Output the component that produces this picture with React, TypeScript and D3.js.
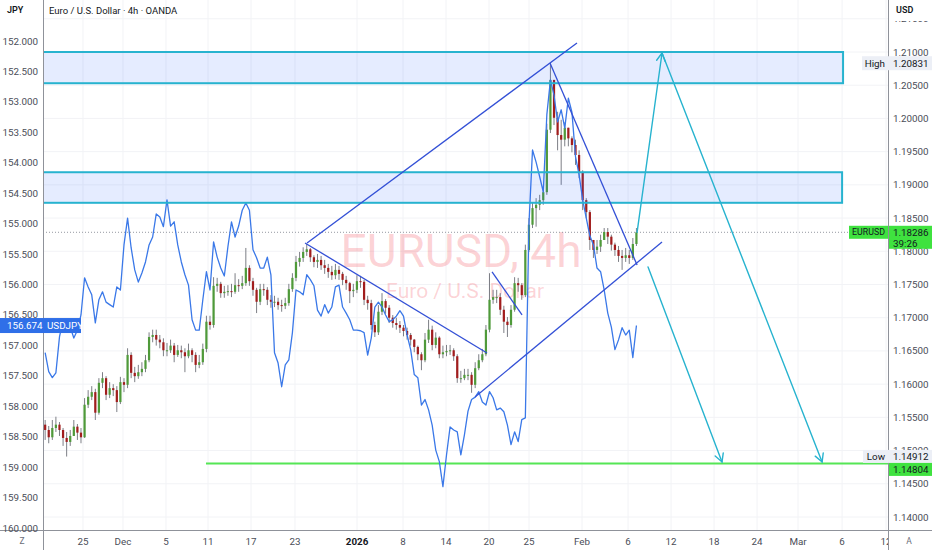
import React from 'react';
import * as d3 from 'd3';

const W = 932;
const H = 550;
const FONT = "Roboto, 'Liberation Sans', Arial, sans-serif";

// ---------- DATA ----------
// EURUSD bars, [close, high, low]; each bar opens at the previous close
const eurOpen0 = 1.1539;
const eurusdBars: [number, number, number][] = [
  [1.1531,1.1546,1.1516],[1.1520,1.1537,1.1511],[1.1534,1.1546,1.1516],[1.1539,1.1551,1.1528],[1.1531,1.1543,1.1522],
  [1.1519,1.1534,1.1507],[1.1513,1.1528,1.1491],[1.1522,1.1531,1.1507],[1.1536,1.1546,1.1522],[1.1527,1.1540,1.1516],
  [1.1520,1.1534,1.1511],[1.1569,1.1579,1.1519],[1.1581,1.1591,1.1564],[1.1588,1.1597,1.1576],[1.1557,1.1593,1.1546],
  [1.1602,1.1609,1.1554],[1.1609,1.1618,1.1594],[1.1584,1.1612,1.1576],[1.1594,1.1603,1.1579],[1.1591,1.1600,1.1582],
  [1.1573,1.1597,1.1558],[1.1603,1.1611,1.1570],[1.1599,1.1609,1.1588],[1.1644,1.1654,1.1594],[1.1617,1.1648,1.1609],
  [1.1612,1.1626,1.1603],[1.1618,1.1629,1.1608],[1.1623,1.1633,1.1612],[1.1636,1.1644,1.1618],[1.1671,1.1678,1.1633],
  [1.1674,1.1682,1.1663],[1.1667,1.1682,1.1658],[1.1663,1.1674,1.1654],[1.1651,1.1669,1.1642],[1.1651,1.1662,1.1642],
  [1.1658,1.1667,1.1647],[1.1644,1.1662,1.1633],[1.1651,1.1659,1.1641],[1.1648,1.1658,1.1639],[1.1642,1.1654,1.1618],
  [1.1651,1.1661,1.1639],[1.1644,1.1654,1.1633],[1.1629,1.1648,1.1618],[1.1633,1.1644,1.1624],[1.1653,1.1661,1.1629],
  [1.1694,1.1703,1.1648],[1.1689,1.1703,1.1682],[1.1748,1.1761,1.1685],[1.1751,1.1760,1.1739],[1.1737,1.1754,1.1730],
  [1.1739,1.1748,1.1730],[1.1740,1.1749,1.1733],[1.1739,1.1751,1.1731],[1.1749,1.1767,1.1736],[1.1748,1.1758,1.1739],
  [1.1752,1.1763,1.1743],[1.1775,1.1805,1.1748],[1.1755,1.1779,1.1748],[1.1742,1.1760,1.1733],[1.1724,1.1745,1.1707],
  [1.1743,1.1751,1.1719],[1.1742,1.1751,1.1733],[1.1727,1.1746,1.1719],[1.1724,1.1734,1.1715],[1.1724,1.1733,1.1716],
  [1.1719,1.1730,1.1712],[1.1718,1.1727,1.1709],[1.1722,1.1730,1.1713],[1.1743,1.1751,1.1718],[1.1760,1.1767,1.1739],
  [1.1784,1.1793,1.1755],[1.1790,1.1799,1.1777],[1.1799,1.1806,1.1784],[1.1803,1.1811,1.1793],[1.1791,1.1805,1.1784],
  [1.1784,1.1794,1.1776],[1.1787,1.1796,1.1775],[1.1779,1.1793,1.1772],[1.1775,1.1787,1.1766],[1.1769,1.1781,1.1760],
  [1.1764,1.1778,1.1757],[1.1772,1.1781,1.1758],[1.1766,1.1778,1.1757],[1.1757,1.1769,1.1749],[1.1752,1.1763,1.1742],
  [1.1740,1.1754,1.1722],[1.1742,1.1751,1.1731],[1.1755,1.1764,1.1737],[1.1754,1.1763,1.1745],[1.1727,1.1757,1.1719],
  [1.1722,1.1733,1.1712],[1.1689,1.1727,1.1682],[1.1678,1.1694,1.1671],[1.1709,1.1719,1.1674],[1.1725,1.1737,1.1704],
  [1.1715,1.1728,1.1706],[1.1700,1.1719,1.1692],[1.1692,1.1704,1.1685],[1.1689,1.1700,1.1682],[1.1685,1.1695,1.1677],
  [1.1680,1.1689,1.1672],[1.1674,1.1685,1.1667],[1.1667,1.1677,1.1658],[1.1656,1.1668,1.1648],[1.1645,1.1658,1.1636],
  [1.1636,1.1648,1.1621],[1.1667,1.1677,1.1633],[1.1682,1.1697,1.1662],[1.1659,1.1688,1.1651],[1.1670,1.1678,1.1654],
  [1.1645,1.1672,1.1639],[1.1648,1.1658,1.1639],[1.1650,1.1659,1.1642],[1.1651,1.1659,1.1644],[1.1642,1.1654,1.1635],
  [1.1609,1.1645,1.1602],[1.1609,1.1620,1.1602],[1.1614,1.1623,1.1606],[1.1614,1.1623,1.1606],[1.1599,1.1618,1.1587],
  [1.1624,1.1633,1.1594],[1.1636,1.1645,1.1621],[1.1645,1.1653,1.1633],[1.1682,1.1689,1.1642],[1.1727,1.1767,1.1678],
  [1.1731,1.1742,1.1721],[1.1731,1.1742,1.1722],[1.1712,1.1737,1.1704],[1.1694,1.1718,1.1677],[1.1689,1.1701,1.1671],
  [1.1712,1.1719,1.1685],[1.1752,1.1761,1.1709],[1.1749,1.1760,1.1739],[1.1734,1.1752,1.1727],[1.1802,1.1810,1.1731],
  [1.1840,1.1850,1.1799],[1.1865,1.1873,1.1835],[1.1870,1.1880,1.1837],[1.1877,1.1885,1.1862],[1.1889,1.1898,1.1870],
  [1.1983,1.1992,1.1885],[1.2058,1.20831,1.1978],[1.2001,1.2058,1.1990],[1.1975,1.2010,1.1952],[1.1968,1.1998,1.1900],
  [1.1986,1.1994,1.1958],[1.1970,1.1986,1.1958],[1.1960,1.1973,1.1949],[1.1945,1.1968,1.1930],[1.1919,1.1952,1.1910],
  [1.1877,1.1922,1.1862],[1.1859,1.1880,1.1850],[1.1817,1.1862,1.1802],[1.1802,1.1817,1.1790],[1.1807,1.1817,1.1796],
  [1.1817,1.1825,1.1799],[1.1829,1.1835,1.1817],[1.1822,1.1835,1.1811],[1.1810,1.1825,1.1801],[1.1802,1.1813,1.1793],
  [1.1793,1.1808,1.1784],[1.1790,1.1802,1.1772],[1.1794,1.1805,1.1784],[1.1790,1.1802,1.1781],[1.1811,1.1820,1.1787],
  [1.18286,1.1835,1.1808],
];

// USDJPY compare line, one value per bar (left, inverted JPY scale)
const usdjpyCloses: number[] = [
  157.12,157.43,157.53,157.45,156.86,156.58,156.66,156.70,156.88,156.75,
  156.50,155.89,156.04,156.17,156.63,156.25,156.12,156.29,156.33,156.37,
  156.04,156.09,155.35,154.91,155.40,155.76,155.96,155.81,155.63,155.35,
  155.22,154.84,154.89,155.05,154.61,155.04,154.97,155.35,155.63,155.84,
  156.01,156.58,156.75,156.75,156.25,155.79,156.09,155.30,155.55,155.73,
  155.86,155.38,154.97,155.22,155.04,154.78,154.66,154.78,155.43,155.56,
  155.73,155.73,155.55,155.84,157.12,157.29,157.68,157.32,157.24,156.79,
  156.09,156.12,156.17,155.84,155.92,156.02,156.42,156.52,156.33,156.47,
  156.37,156.04,156.01,156.37,156.47,156.58,156.75,156.75,156.76,156.79,
  157.16,156.88,156.37,156.29,156.37,156.50,156.61,156.58,156.52,156.43,
  156.52,156.83,157.07,157.48,157.53,157.98,157.89,158.06,158.31,158.72,
  158.91,159.32,158.80,158.34,158.39,158.42,158.80,158.47,158.08,157.89,
  157.85,157.76,157.93,157.98,157.76,157.86,158.06,158.03,158.09,158.31,
  158.63,158.42,158.58,158.22,158.19,155.02,153.79,153.99,154.23,154.48,
  153.21,152.64,152.89,153.33,153.13,153.43,152.94,153.17,153.90,154.20,
  154.61,154.91,155.20,155.35,155.73,155.79,156.09,156.47,156.70,157.07,
  156.91,156.71,156.83,156.75,157.20,156.674,
];

const barStartDay = 0.2; // trading-day position of first bar
const barsPerDay = 3;

const timeTicks: { label: string; day: number; bold?: boolean }[] = [
  { label: '25', day: 3.72 }, { label: 'Dec', day: 7.44 }, { label: '5', day: 11.44 },
  { label: '11', day: 15.35 }, { label: '17', day: 19.35 }, { label: '23', day: 23.44 },
  { label: '2026', day: 29.21, bold: true }, { label: '8', day: 33.49 }, { label: '14', day: 37.49 },
  { label: '20', day: 41.49 }, { label: '25', day: 45.21 }, { label: 'Feb', day: 50.14 },
  { label: '6', day: 54.42 }, { label: '12', day: 58.42 }, { label: '18', day: 62.42 },
  { label: '24', day: 66.42 }, { label: 'Mar', day: 70.23 }, { label: '6', day: 74.33 },
  { label: '12', day: 78.42 },
];
const jpyTicks = [152, 152.5, 153, 153.5, 154, 154.5, 155, 155.5, 156, 156.5, 157, 157.5, 158, 158.5, 159, 159.5, 160];
const usdTicks = [1.215, 1.21, 1.205, 1.2, 1.195, 1.19, 1.185, 1.18, 1.175, 1.17, 1.165, 1.16, 1.155, 1.15, 1.145, 1.14];

// drawings (trading day, EURUSD price)
const zones = [
  { fromDay: -1, toDay: 74.42, top: 1.2100, bottom: 1.2053 },
  { fromDay: -1, toDay: 74.33, top: 1.1919, bottom: 1.1873 },
];
const trendLines: [number, number][][] = [
  [[24.56, 1.18125], [49.67, 1.21136]],
  [[24.37, 1.18125], [41.30, 1.16469]],
  [[41.77, 1.17689], [44.56, 1.17041]],
  [[40.19, 1.15807], [57.58, 1.18140]],
  [[47.16, 1.20835], [55.26, 1.17794]],
];
const arrows: [number, number][][] = [
  [[55.26, 1.18286], [57.58, 1.20985]],
  [[57.58, 1.20985], [72.47, 1.14829]],
  [[56.28, 1.17764], [63.16, 1.14829]],
];
const supportLine = { fromDay: 15.16, toDay: 80, price: 1.14804 };
const lastPrice = 1.18286;
const countdown = '39:26';
const highPrice = 1.20831;
const lowPrice = 1.14912;
const lastJpy = 156.674;
const pricelineEndDay = 74.9;

// ---------- SCALES ----------
const PL = 43, PR = 888, PB = 530;
const x = d3.scaleLinear().domain([0, 78.6]).range([PL, PR]);
const yUsd = d3.scaleLinear().domain([1.21, 1.14]).range([52, 517]);
const yJpy = d3.scaleLinear().domain([152, 160]).range([41, 528]);

const UP = '#4f9a3a';
const DOWN = '#a11d1d';
const WICK = '#7d7f86';
const JPY_BLUE = '#3a78e8';
const TREND = '#3350d6';
const TEAL = '#27b3cf';
const GREEN = '#55e655';
const LABEL_GREEN = '#3fe23f';
const AXIS_TXT = '#4a4d57';
const AXIS_FS = 9.8;

const barDay = (i: number) => barStartDay + i / barsPerDay;

function Arrow({ p0, p1 }: { p0: [number, number]; p1: [number, number] }) {
  const x0 = x(p0[0]), y0 = yUsd(p0[1]), x1 = x(p1[0]), y1 = yUsd(p1[1]);
  const a = Math.atan2(y1 - y0, x1 - x0);
  const L = 9, s = 0.5;
  const ax = x1 - L * Math.cos(a - s), ay = y1 - L * Math.sin(a - s);
  const bx = x1 - L * Math.cos(a + s), by = y1 - L * Math.sin(a + s);
  return (
    <g stroke={TEAL} strokeWidth={1.4} fill="none" strokeLinecap="round">
      <line x1={x0} y1={y0} x2={x1} y2={y1} />
      <path d={`M${ax},${ay}L${x1},${y1}L${bx},${by}`} />
    </g>
  );
}

export default function App() {
  const bw = (x(1 / barsPerDay) - x(0)) * 0.62;
  const fmtJ = d3.format('.3f');
  const fmtU = d3.format('.5f');
  const jpyLine = d3.line<number>().x((_, i) => x(barDay(i))).y(d => yJpy(d))(usdjpyCloses) || '';

  return (
    <svg width={W} height={H} style={{ position: 'absolute', left: 0, top: 0, display: 'block', background: '#fff' }} fontFamily={FONT}>
      <defs>
        <clipPath id="plot"><rect x={PL} y={0} width={PR - PL} height={PB} /></clipPath>
        <clipPath id="xaxis"><rect x={PL} y={PB} width={PR - PL} height={H - PB} /></clipPath>
        <clipPath id="raxis"><rect x={PR} y={21} width={W - PR} height={PB - 21} /></clipPath>
      </defs>
      <rect x={0} y={0} width={W} height={H} fill="#fff" />

      <g clipPath="url(#plot)">
        {/* grid */}
        {usdTicks.map(t => (
          <line key={'h' + t} x1={PL} x2={PR} y1={yUsd(t)} y2={yUsd(t)} stroke="#f2f3f6" />
        ))}
        {timeTicks.map((t, i) => (
          <line key={'v' + i} x1={x(t.day)} x2={x(t.day)} y1={0} y2={PB} stroke="#f2f3f6" />
        ))}

        {/* watermark */}
        <text x={461} y={267} textAnchor="middle" fontSize={46} fill="rgba(242,54,69,0.22)">EURUSD, 4h</text>
        <text x={465} y={298} textAnchor="middle" fontSize={21} fill="rgba(242,54,69,0.22)">Euro / U.S. Dollar</text>

        {/* support line */}
        <line x1={x(supportLine.fromDay)} x2={x(supportLine.toDay)} y1={yUsd(supportLine.price)} y2={yUsd(supportLine.price)} stroke={GREEN} strokeWidth={2} />

        {/* last price dotted line */}
        <line x1={PL} x2={x(pricelineEndDay)} y1={yUsd(lastPrice)} y2={yUsd(lastPrice)} stroke="#9598a1" strokeDasharray="1,2" />

        {/* candles */}
        {eurusdBars.map((b, i) => {
          const o = i === 0 ? eurOpen0 : eurusdBars[i - 1][0];
          const c = b[0];
          const hi = Math.max(b[1], o, c), lo = Math.min(b[2], o, c);
          const cx = x(barDay(i));
          const yt = yUsd(Math.max(o, c)), yb = yUsd(Math.min(o, c));
          return (
            <g key={i}>
              <line x1={cx} x2={cx} y1={yUsd(hi)} y2={yUsd(lo)} stroke={WICK} strokeWidth={1} />
              <rect x={cx - bw / 2} y={yt} width={bw} height={Math.max(1, yb - yt)} fill={c >= o ? UP : DOWN} />
            </g>
          );
        })}

        {/* USDJPY compare line */}
        <path d={jpyLine} fill="none" stroke={JPY_BLUE} strokeWidth={1.3} strokeLinejoin="round" />

        {/* zones */}
        {zones.map((z, i) => (
          <rect key={'z' + i} x={x(z.fromDay)} y={yUsd(z.top)} width={x(z.toDay) - x(z.fromDay)} height={yUsd(z.bottom) - yUsd(z.top)}
            fill="rgba(41,98,255,0.12)" stroke={TEAL} strokeWidth={2} />
        ))}

        {/* trend lines */}
        {trendLines.map((l, i) => (
          <line key={'t' + i} x1={x(l[0][0])} y1={yUsd(l[0][1])} x2={x(l[1][0])} y2={yUsd(l[1][1])} stroke={TREND} strokeWidth={1.3} />
        ))}

        {/* arrows */}
        {arrows.map((a, i) => <Arrow key={'a' + i} p0={a[0]} p1={a[1]} />)}
      </g>

      {/* axes lines */}
      <line x1={PL + 0.5} x2={PL + 0.5} y1={0} y2={H} stroke="#8f929a" />
      <line x1={PR + 0.5} x2={PR + 0.5} y1={0} y2={H} stroke="#8f929a" />
      <line x1={0} x2={W} y1={PB + 0.5} y2={PB + 0.5} stroke="#8f929a" />

      {/* left axis */}
      {jpyTicks.map(t => (
        <text key={'j' + t} x={38} y={yJpy(t)} textAnchor="end" dominantBaseline="central" fontSize={AXIS_FS} fill={AXIS_TXT}>{fmtJ(t)}</text>
      ))}
      {/* right axis */}
      <g clipPath="url(#raxis)">
        {usdTicks.map(t => (
          <text key={'u' + t} x={893} y={yUsd(t)} dominantBaseline="central" fontSize={AXIS_FS} fill={AXIS_TXT}>{fmtU(t)}</text>
        ))}
      </g>
      {/* bottom axis */}
      <g clipPath="url(#xaxis)">
        {timeTicks.map((t, i) => (
          <text key={'x' + i} x={x(t.day)} y={541} textAnchor="middle" dominantBaseline="central" fontSize={AXIS_FS}
            fontWeight={t.bold ? 700 : 400} fill={t.bold ? '#131722' : AXIS_TXT}>{t.label}</text>
        ))}
      </g>
      <text x={22} y={541} textAnchor="middle" dominantBaseline="central" fontSize={8.5} fill="#6a6d78">Z</text>
      <text x={909} y={541} textAnchor="middle" dominantBaseline="central" fontSize={8.5} fill="#6a6d78">A</text>

      {/* header */}
      <text x={7} y={10} dominantBaseline="central" fontSize={9} fontWeight={600} fill="#131722">JPY</text>
      <text x={49} y={10} dominantBaseline="central" fontSize={9.5} fill="#131722">Euro / U.S. Dollar · 4h · OANDA</text>
      <text x={896} y={10} dominantBaseline="central" fontSize={9} fontWeight={600} fill="#131722">USD</text>

      {/* USDJPY label */}
      <rect x={0} y={yJpy(lastJpy) - 7.5} width={81} height={15} fill="#2f6fe8" />
      <text x={7} y={yJpy(lastJpy)} dominantBaseline="central" fontSize={AXIS_FS} fill="#fff">{fmtJ(lastJpy)}</text>
      <text x={47} y={yJpy(lastJpy)} dominantBaseline="central" fontSize={AXIS_FS} fill="#fff">USDJPY</text>

      {/* High label */}
      <rect x={862} y={yUsd(highPrice) - 7} width={W - 862} height={14} fill="#eceff6" />
      <text x={885} y={yUsd(highPrice)} textAnchor="end" dominantBaseline="central" fontSize={AXIS_FS} fill="#131722">High</text>
      <text x={893} y={yUsd(highPrice)} dominantBaseline="central" fontSize={AXIS_FS} fill="#131722">{fmtU(highPrice)}</text>

      {/* EURUSD last price label */}
      <rect x={849} y={yUsd(lastPrice) - 6.5} width={PR - 849} height={13} fill={LABEL_GREEN} />
      <text x={868.5} y={yUsd(lastPrice)} textAnchor="middle" dominantBaseline="central" fontSize={8.8} fill="#131722">EURUSD</text>
      <rect x={PR + 1} y={yUsd(lastPrice) - 6.5} width={W - PR - 1} height={23} fill={LABEL_GREEN} />
      <text x={893} y={yUsd(lastPrice)} dominantBaseline="central" fontSize={AXIS_FS} fill="#131722">{fmtU(lastPrice)}</text>
      <text x={893} y={yUsd(lastPrice) + 11} dominantBaseline="central" fontSize={AXIS_FS} fill="#131722">{countdown}</text>

      {/* Low label */}
      <rect x={863} y={yUsd(lowPrice) - 6.5} width={W - 863} height={13} fill="#eceff6" />
      <text x={885} y={yUsd(lowPrice)} textAnchor="end" dominantBaseline="central" fontSize={AXIS_FS} fill="#131722">Low</text>
      <text x={893} y={yUsd(lowPrice)} dominantBaseline="central" fontSize={AXIS_FS} fill="#131722">{fmtU(lowPrice)}</text>

      {/* support price label */}
      <rect x={PR + 1} y={yUsd(lowPrice) + 6.5} width={W - PR - 1} height={13} fill={LABEL_GREEN} />
      <text x={893} y={yUsd(lowPrice) + 13} dominantBaseline="central" fontSize={AXIS_FS} fill="#131722">{fmtU(supportLine.price)}</text>
    </svg>
  );
}
